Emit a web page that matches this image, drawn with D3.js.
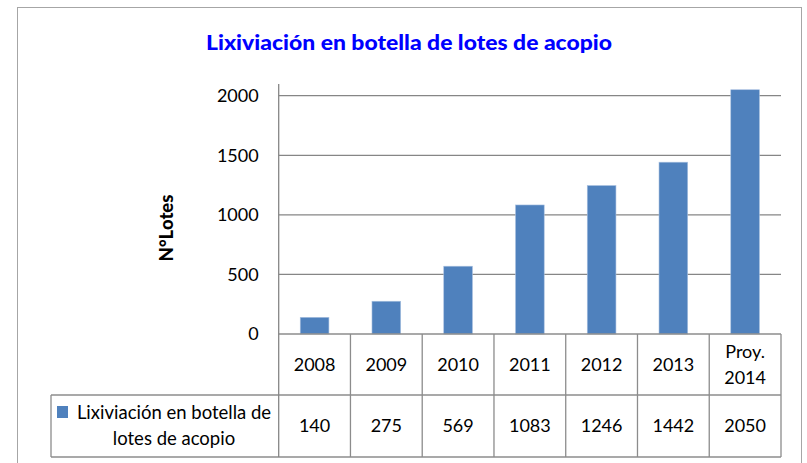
<!DOCTYPE html>
<html>
<head>
<meta charset="utf-8">
<script src="https://cdn.jsdelivr.net/npm/d3@7"></script>
<style>
  body { margin: 0; background: #fff; }
  svg { display: block; font-family: Lato, "Open Sans", sans-serif; }
</style>
</head>
<body>
<svg id="chart"></svg>
<script>
"use strict";

const categories = ["2008", "2009", "2010", "2011", "2012", "2013", "Proy. 2014"];
const values = [140, 275, 569, 1083, 1246, 1442, 2050];
const yTicks = [0, 500, 1000, 1500, 2000];
const seriesName = "Lixiviación en botella de lotes de acopio";
const legendLines = ["Lixiviación en botella de", "lotes de acopio"];
const chartTitle = "Lixiviación en botella de lotes de acopio";
const yTitle = "N°Lotes";

const width = 807, height = 463;
const BAR_COLOR = "#4f81bd";
const GRID_COLOR = "#868686";
const TABLE_COLOR = "#8c8c8c";

const svg = d3.select("#chart")
    .attr("width", width)
    .attr("height", height);

// chart frame
svg.append("rect")
    .attr("x", 17.5).attr("y", 7.5)
    .attr("width", 784).attr("height", 470)
    .attr("fill", "#fff")
    .attr("stroke", "#a6a6a6");

const plot = { left: 278.7, right: 781, top: 95.7, bottom: 334 };

const x = d3.scaleBand()
    .domain(categories)
    .range([plot.left, plot.right])
    .padding(0);

const y = d3.scaleLinear()
    .domain([0, 2000])
    .range([plot.bottom, plot.top]);

// title
svg.append("text")
    .attr("x", 409).attr("y", 50)
    .attr("text-anchor", "middle")
    .attr("font-weight", "900")
    .attr("font-size", 21)
    .attr("fill", "#0000ff")
    .attr("textLength", 406)
    .attr("lengthAdjust", "spacingAndGlyphs")
    .text(chartTitle);

// gridlines
svg.append("g").selectAll("line")
    .data(yTicks.filter(d => d > 0))
    .enter().append("line")
    .attr("x1", plot.left).attr("x2", plot.right)
    .attr("y1", d => y(d)).attr("y2", d => y(d))
    .attr("stroke", GRID_COLOR)
    .attr("stroke-width", 1.3);

// y axis
const yAxis = svg.append("g")
    .attr("transform", `translate(${plot.left},0)`)
    .call(d3.axisLeft(y).tickValues(yTicks).tickFormat(d3.format("d")).tickSize(0).tickPadding(20));
yAxis.select(".domain").remove();
yAxis.selectAll("text")
    .attr("font-size", 18)
    .attr("font-family", "Lato, sans-serif")
    .attr("fill", "#000");

svg.append("text")
    .attr("transform", `translate(173,228) rotate(-90)`)
    .attr("text-anchor", "middle")
    .attr("font-weight", "900")
    .attr("font-size", 18.5)
    .attr("fill", "#000")
    .text(yTitle);

// bars
svg.append("g").selectAll("rect")
    .data(values)
    .enter().append("rect")
    .attr("x", (d, i) => x(categories[i]) + x.bandwidth() * 0.3)
    .attr("width", x.bandwidth() * 0.4)
    .attr("y", d => y(d))
    .attr("height", d => y(0) - y(d))
    .attr("fill", BAR_COLOR)
    .attr("stroke", "#a9c1e0")
    .attr("stroke-width", 0.6);

// data table
const rowTop = plot.bottom, rowMid = 395, rowBottom = 457;
const legendLeft = 51;
const table = svg.append("g")
    .attr("stroke", TABLE_COLOR)
    .attr("stroke-width", 1.3);

table.append("line")
    .attr("x1", plot.left).attr("x2", plot.right)
    .attr("y1", rowTop).attr("y2", rowTop);
table.append("line")
    .attr("x1", legendLeft).attr("x2", plot.right)
    .attr("y1", rowMid).attr("y2", rowMid);
table.append("line")
    .attr("x1", legendLeft).attr("x2", plot.right)
    .attr("y1", rowBottom).attr("y2", rowBottom);
table.append("line")
    .attr("x1", legendLeft).attr("x2", legendLeft)
    .attr("y1", rowMid).attr("y2", rowBottom);
// y axis line runs through the table
table.append("line")
    .attr("x1", plot.left).attr("x2", plot.left)
    .attr("y1", 84).attr("y2", rowBottom)
    .attr("stroke", GRID_COLOR);
table.selectAll(".col-line")
    .data(categories)
    .enter().append("line")
    .attr("class", "col-line")
    .attr("x1", d => x(d) + x.bandwidth()).attr("x2", d => x(d) + x.bandwidth())
    .attr("y1", rowTop).attr("y2", rowBottom);

// header labels
const headers = svg.append("g")
    .attr("font-size", 18)
    .attr("text-anchor", "middle")
    .attr("fill", "#000");
categories.forEach(c => {
    const lines = c.startsWith("Proy.") ? c.split(" ") : [c];
    const t = headers.append("text")
        .attr("x", x(c) + x.bandwidth() / 2)
        .attr("y", 371 - (lines.length - 1) * 13);
    lines.forEach((l, i) => {
        t.append("tspan")
            .attr("x", x(c) + x.bandwidth() / 2)
            .attr("dy", i === 0 ? 0 : 26)
            .text(l);
    });
});

// value row
svg.append("g").selectAll("text")
    .data(values)
    .enter().append("text")
    .attr("x", (d, i) => x(categories[i]) + x.bandwidth() / 2)
    .attr("y", 432)
    .attr("text-anchor", "middle")
    .attr("font-size", 18)
    .attr("fill", "#000")
    .text(d => d);

// legend cell
svg.append("rect")
    .attr("x", 57).attr("y", 406)
    .attr("width", 11).attr("height", 12)
    .attr("fill", BAR_COLOR)
    .attr("aria-label", seriesName);
const legendText = svg.append("text")
    .attr("font-size", 18.5)
    .attr("text-anchor", "middle")
    .attr("fill", "#000");
legendLines.forEach((l, i) => {
    legendText.append("tspan")
        .attr("x", 174)
        .attr("y", 419 + i * 26)
        .text(l);
});
</script>
</body>
</html>
